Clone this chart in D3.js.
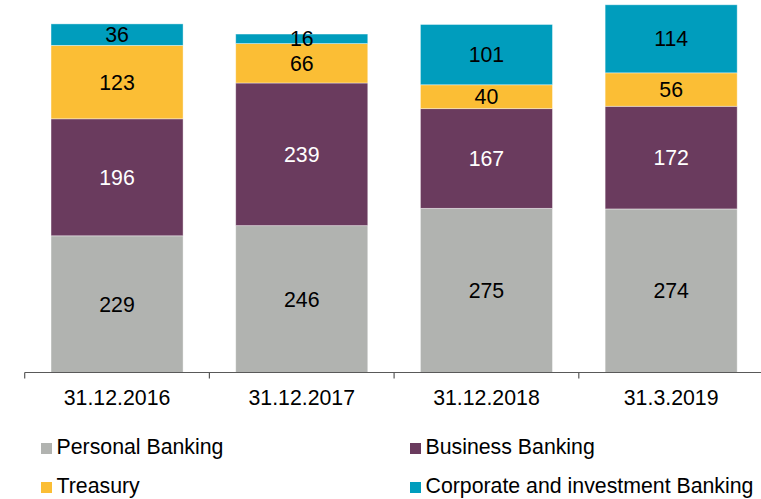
<!DOCTYPE html>
<html><head><meta charset="utf-8">
<script src="https://cdn.jsdelivr.net/npm/d3@7/dist/d3.min.js"></script>
<style>html,body{margin:0;padding:0;background:#fff;}svg{display:block;font-family:"Liberation Sans",Arial,sans-serif;}</style>
</head><body>
<svg id="c" width="761" height="499"></svg>
<script>
const categories = ["31.12.2016", "31.12.2017", "31.12.2018", "31.3.2019"];
const seriesNames = ["Personal Banking", "Business Banking", "Treasury", "Corporate and investment Banking"];
const personal = [229, 246, 275, 274];
const business = [196, 239, 167, 172];
const treasury = [123, 66, 40, 56];
const corporate = [36, 16, 101, 114];
const colors = ["#B1B3B0", "#6A3B5E", "#FBBE35", "#009DBD"];
const labelColors = ["#000", "#fff", "#000", "#000"];

const seriesVals = [personal, business, treasury, corporate];
const rows = categories.map((c, i) => {
  const o = {cat: c};
  seriesNames.forEach((s, k) => o[s] = seriesVals[k][i]);
  return o;
});
const stack = d3.stack().keys(seriesNames)(rows);

const FS = 21.3;
const svg = d3.select("#c");
const x = d3.scaleBand().domain(categories).range([24.7, 763.5]).paddingInner(0.285).paddingOuter(0.1425);
const y = d3.scaleLinear().domain([0, 620]).range([372.5, 2.4]);

const g = svg.append("g");
stack.forEach((layer, k) => {
  g.selectAll(null).data(layer).enter().append("rect")
    .attr("x", d => x(d.data.cat))
    .attr("width", x.bandwidth())
    .attr("y", d => y(d[1]))
    .attr("height", d => y(d[0]) - y(d[1]))
    .attr("fill", colors[k])
    .attr("stroke", "#ffffff")
    .attr("stroke-opacity", 0.5)
    .attr("stroke-width", 0.8);
});
stack.forEach((layer, k) => {
  g.selectAll(null).data(layer).enter().append("text")
    .attr("x", d => x(d.data.cat) + x.bandwidth() / 2)
    .attr("y", d => (y(d[0]) + y(d[1])) / 2)
    .attr("dy", "0.36em")
    .attr("text-anchor", "middle")
    .attr("font-size", FS)
    .attr("fill", labelColors[k])
    .text(d => d[1] - d[0]);
});

// axis
const ax = svg.append("g").attr("transform", "translate(0,372.5)");
const axis = d3.axisBottom(x).tickSize(0).tickPadding(0);
ax.call(axis);
ax.select(".domain").remove();
ax.append("line").attr("x1", 24.7).attr("x2", 763.5).attr("y1", 0).attr("y2", 0).attr("stroke", "#595959").attr("stroke-width", 1.2);
const bounds = d3.range(categories.length + 1).map(i => 24.7 + i * x.step());
ax.selectAll(".sep").data(bounds).enter().append("line")
  .attr("x1", d => d).attr("x2", d => d).attr("y1", 0).attr("y2", 6)
  .attr("stroke", "#595959").attr("stroke-width", 1.2);
ax.selectAll(".tick text").attr("font-size", FS).attr("fill", "#000")
  .attr("font-family", "'Liberation Sans', Arial, sans-serif")
  .attr("y", 32.5).attr("dy", 0);

// legend
const legendPos = [[41, 454], [410, 454], [41, 493], [410, 493]];
seriesNames.forEach((s, k) => {
  const [lx, ly] = legendPos[k];
  svg.append("rect").attr("x", lx).attr("y", ly - 11).attr("width", 11).attr("height", 11).attr("fill", colors[k]);
  svg.append("text").attr("x", lx + 15.5).attr("y", ly).attr("font-size", FS).attr("fill", "#000").text(s);
});
</script>
</body></html>
